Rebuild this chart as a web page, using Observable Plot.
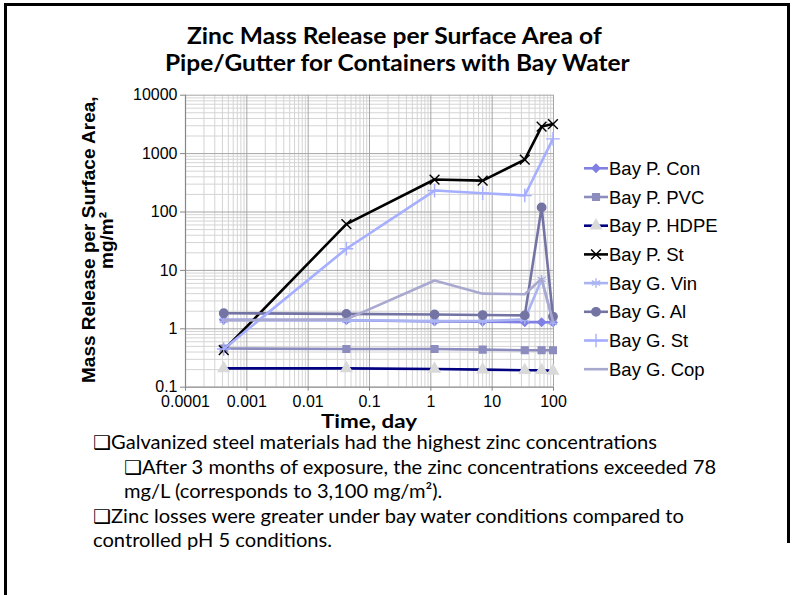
<!DOCTYPE html>
<html><head><meta charset="utf-8">
<script src="https://cdn.jsdelivr.net/npm/d3@7"></script>
<script src="https://cdn.jsdelivr.net/npm/@observablehq/plot@0.6"></script>
<style>
html,body{margin:0;padding:0;background:#fff;}
#page{position:relative;width:793px;height:595px;overflow:hidden;background:#fff;}
.bar{position:absolute;background:#000;}
.fit{position:absolute;white-space:nowrap;transform-origin:0 50%;line-height:1;color:#000;}
#chart svg text{fill:#000;}
.ytitle{position:absolute;white-space:nowrap;font-family:"Liberation Sans",Arial,sans-serif;font-weight:bold;font-size:19px;color:#000;transform-origin:0 0;line-height:1;}
</style></head>
<body><div id="page"><div id="chart"></div></div>
<script>
// ---------------- data ----------------
const timeDays   = [0.00042, 0.042, 1.15, 7, 34, 64, 98];
const seriesNames = ["Bay P. Con","Bay P. PVC","Bay P. HDPE","Bay P. St","Bay G. Vin","Bay G. Al","Bay G. St","Bay G. Cop"];
const bayPCon  = [1.43, 1.40, 1.33, 1.32, 1.30, 1.30, 1.28];
const bayPPVC  = [0.46, 0.45, 0.45, 0.44, 0.43, 0.43, 0.43];
const bayPHDPE = [0.21, 0.21, 0.205, 0.20, 0.195, 0.195, 0.19];
const bayPSt   = [0.43, 62, 360, 345, 790, 2900, 3200];
const bayGVin  = [1.40, 1.40, 1.36, 1.36, 1.45, 7.0, 1.30];
const bayGAl   = [1.85, 1.80, 1.76, 1.72, 1.70, 120, 1.62];
const bayGSt   = [0.45, 23.5, 233, 210, 192, null, 1790];
const bayGCop  = [1.40, 1.45, 6.7, 4.0, 3.9, 7.2, 1.35];
const seriesValues = [bayPCon, bayPPVC, bayPHDPE, bayPSt, bayGVin, bayGAl, bayGSt, bayGCop];

const xTickValues = [0.0001, 0.001, 0.01, 0.1, 1, 10, 100];
const xTickLabels = ["0.0001","0.001","0.01","0.1","1","10","100"];
const yTickValues = [0.1, 1, 10, 100, 1000, 10000];
const yTickLabels = ["0.1","1","10","100","1000","10000"];

const titleLines = ["Zinc Mass Release per Surface Area  of", "Pipe/Gutter for Containers with Bay Water"];
const xTitle = "Time, day";
const yTitleLines = ["Mass Release per Surface Area,", "mg/m²"];
const noteLines = [
  "❑Galvanized steel materials had the highest zinc concentrations",
  "❑After 3 months of exposure, the zinc concentrations exceeded 78",
  "mg/L (corresponds to 3,100 mg/m²).",
  "❑Zinc losses were greater under bay water conditions compared to",
  "controlled pH 5 conditions."
];

// ---------------- styles ----------------
const seriesStyles = [
  {color:"#8080e4", symbol:"diamond2", r:3.6, fill:"#8080e4", stroke:"#8080e4"},
  {color:"#8c8cbe", symbol:"square",   r:3.8, fill:"#8c8cbe", stroke:"#8c8cbe"},
  {color:"#000080", symbol:"triangle", r:4.0, fill:"#d9d9d9", stroke:"#d9d9d9"},
  {color:"#000000", symbol:"times",    r:4.5, fill:"none",    stroke:"#000000"},
  {color:"#aab4f2", symbol:"asterisk", r:4.5, fill:"none",    stroke:"#aab4f2"},
  {color:"#7474a4", symbol:"circle",   r:4.2, fill:"#7474a4", stroke:"#7474a4"},
  {color:"#a6aeff", symbol:"plus",     r:4.5, fill:"none",    stroke:"#a6aeff"},
  {color:"#a9a9d0", symbol:null}
];
const W = 793, H = 420;
const plotL = 185, plotR = 553, plotT = 94.7, plotB = 386.7;

// ---------------- chart ----------------
const rows = seriesValues.map((vals, si) =>
  vals.map((v, i) => v == null ? null : {series: seriesNames[si], t: timeDays[i], v}).filter(Boolean));

const minorX = [];
for (let e = -4; e < 2; e++) for (let k = 2; k <= 9; k++) minorX.push(k * Math.pow(10, e));
const minorY = [];
for (let e = -1; e < 4; e++) for (let k = 2; k <= 9; k++) minorY.push(k * Math.pow(10, e));

const marks = [
  Plot.ruleX(minorX, {stroke:"#d4d4d4", strokeWidth:1}),
  Plot.ruleY(minorY, {stroke:"#d4d4d4", strokeWidth:1}),
  Plot.ruleX(xTickValues.slice(1), {stroke:"#a6a6a6", strokeWidth:1}),
  Plot.ruleY(yTickValues.slice(1), {stroke:"#a6a6a6", strokeWidth:1}),
  Plot.ruleX([xTickValues[0]], {stroke:"#868686", strokeWidth:1.2}),
  Plot.ruleY([yTickValues[0]], {stroke:"#868686", strokeWidth:1.2})
];
rows.forEach((data, si) => {
  const st = seriesStyles[si];
  marks.push(Plot.line(data, {x:"t", y:"v", stroke: st.color, strokeWidth: 2.6}));
  if (st.symbol) {
    marks.push(Plot.dot(data, {x:"t", y:"v", symbol: st.symbol, r: st.r, fill: st.fill, stroke: st.stroke, strokeWidth: 1.4}));
  }
});

const chart = Plot.plot({
  width: W, height: H,
  marginLeft: plotL, marginRight: W - plotR, marginTop: plotT, marginBottom: H - plotB,
  x: {type:"log", domain:[1e-4, 100], ticks: xTickValues, tickFormat: d => xTickLabels[xTickValues.indexOf(d)], tickSize: 4, tickPadding: 4, label: null},
  y: {type:"log", domain:[0.1, 10000], ticks: yTickValues, tickFormat: d => yTickLabels[yTickValues.indexOf(d)], tickSize: 5, tickPadding: 3, label: null},
  style: {fontFamily:"'Liberation Sans', Arial, sans-serif", fontSize:"16px", color:"#868686", background:"transparent", overflow:"visible"},
  marks
});
chart.style.position = "absolute";
chart.style.left = "0px";
chart.style.top = "0px";
document.getElementById("chart").appendChild(chart);

// ---------------- legend ----------------
const symMap = {diamond2: d3.symbolDiamond2, square: d3.symbolSquare, triangle: d3.symbolTriangle, times: d3.symbolTimes,
  asterisk: d3.symbolAsterisk, circle: d3.symbolCircle, plus: d3.symbolPlus};
const leg = d3.select("#page").append("svg")
  .style("position","absolute").style("left","580px").style("top","150px")
  .attr("width", 210).attr("height", 240);
seriesNames.forEach((name, i) => {
  const st = seriesStyles[i];
  const g = leg.append("g").attr("transform", `translate(0,${18.3 + i * 28.7})`);
  g.append("line").attr("x1", 4).attr("x2", 28).attr("stroke", st.color).attr("stroke-width", 2.6);
  if (st.symbol) g.append("path").attr("transform", "translate(16,0)")
    .attr("d", d3.symbol(symMap[st.symbol], Math.PI * st.r * st.r)())
    .attr("fill", st.fill).attr("stroke", st.stroke).attr("stroke-width", 1.4);
  g.append("text").attr("x", 29).attr("dy", "0.36em").text(name)
    .style("font-family", "'Liberation Sans', Arial, sans-serif").style("font-size", "18.5px").attr("fill", "#000");
});

// ---------------- texts ----------------
const page = document.getElementById("page");
const canvas = document.createElement("canvas").getContext("2d");
function measure(text, font) { canvas.font = font; return canvas.measureText(text).width; }
function placeText(text, font, x, centerY, k) {
  const d = document.createElement("div");
  d.className = "fit";
  d.textContent = text;
  d.style.font = font;
  d.style.left = x + "px";
  d.style.top = centerY + "px";
  d.style.transform = `translateY(-50%) scaleX(${k})`;
  page.appendChild(d);
  return d;
}
function fitCentered(text, font, cx, cy, targetWidth) {
  const k = targetWidth / measure(text, font);
  return placeText(text, font, cx - targetWidth / 2, cy, k);
}
const titleFont = "bold 23.5px Lato, 'Open Sans', sans-serif";
fitCentered(titleLines[0], titleFont, 398, 35, 422);
fitCentered(titleLines[1], titleFont, 398, 62, 467);
fitCentered(xTitle, "bold 19px Lato, sans-serif", 369, 420, 96);

const noteFont = "19px Lato, 'Open Sans', sans-serif";
const noteK = 564 / measure(noteLines[0], noteFont);
const noteLeft = [93, 124, 124, 93, 93];
const noteY = [441, 465.5, 490, 514.5, 539];
noteLines.forEach((t, i) => placeText(t, noteFont, noteLeft[i], noteY[i], noteK));

// y-axis title (rotated)
yTitleLines.forEach((t, i) => {
  const d = document.createElement("div");
  d.className = "ytitle";
  d.textContent = t;
  page.appendChild(d);
  const w = d.getBoundingClientRect().width;
  const cx = [88, 106][i], cy = 240;
  d.style.left = (cx - 9.5) + "px";
  d.style.top = (cy + w / 2) + "px";
  d.style.transform = "rotate(-90deg)";
});

// frame
[["4px","3px","786px","2.5px"],["4px","3px","2.5px","600px"],["787px","3px","2.5px","540px"]].forEach(([l,t,w,h]) => {
  const b = document.createElement("div"); b.className = "bar";
  b.style.left = l; b.style.top = t; b.style.width = w; b.style.height = h; page.appendChild(b);
});
</script>
</body></html>
